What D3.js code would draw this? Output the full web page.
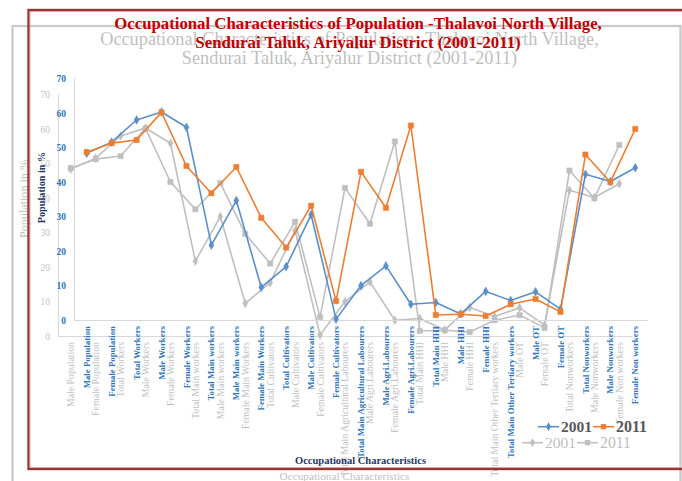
<!DOCTYPE html>
<html><head><meta charset="utf-8">
<script src="https://cdn.jsdelivr.net/npm/d3@7/dist/d3.min.js"></script>
<style>body{margin:0;background:#fff;overflow:hidden}</style>
</head><body>
<svg id="c" width="682" height="481"></svg>
<script>
const categories = ["Male Population","Female Population","Total Workers","Male Workers","Female Workers","Total Main workers","Male Main workers","Female Main Workers","Total Cultivators","Male Cultivators","Female Cultivators","Total Main Agricultural Labourers","Male Agri.Labourers","Female Agri.Labourers","Total Main HHI","Male HHI","Female HHI","Total Main Other Tertiary workers","Male OT","Female OT","Total Nonworkers","Male Nonworkers","Female Non workers"];
const values2001 = [48.4,51.6,58.0,60.3,55.9,21.8,34.7,9.6,15.6,30.6,0.4,10.1,15.8,4.7,5.2,1.9,8.4,5.8,8.3,3.3,42.3,40.2,44.2];
const values2011 = [48.7,51.3,52.2,60.2,44.7,36.8,44.4,29.7,21.1,33.2,5.6,43.0,32.6,56.4,1.6,1.8,1.3,4.7,6.2,2.5,48.0,40.0,55.4];
const seriesNames = ["2001","2011"];
const yTicks = [0,10,20,30,40,50,60,70];
const titleLines = ["Occupational Characteristics of Population -Thalavoi North Village,","Sendurai Taluk, Ariyalur District (2001-2011)"];
const xTitle = "Occupational Characteristics";
const yTitle = "Population in %";

const svg = d3.select("#c");
const FONT = "'Liberation Serif', 'Times New Roman', serif";

function fit(sel, target){
  const n = sel.node(); const len = n.getComputedTextLength();
  const fs = parseFloat(sel.attr("font-size"));
  sel.attr("font-size", fs*target/len);
  return fs*target/len;
}

function drawChart(cfg){
  const g = svg.append("g").attr("transform",`translate(${cfg.dx},${cfg.dy})`);
  const fw = cfg.bold ? "bold" : "normal";
  // frame
  g.append("rect").attr("x",28.5).attr("y",10).attr("width",668).attr("height",459)
    .attr("fill","none").attr("stroke",cfg.frame).attr("stroke-width",cfg.frameW);
  if(cfg.frameInner){
    g.append("rect").attr("x",30).attr("y",11.5).attr("width",665).attr("height",456)
      .attr("fill","none").attr("stroke",cfg.frameInner).attr("stroke-width",0.8);
  }
  const x = d3.scalePoint().domain(categories).range([86.7,635.3]);
  const y = d3.scaleLinear().domain([0,70]).range([320.5,78.5]);
  const left = 74.5, right = 648.2;
  // axes lines
  g.append("line").attr("x1",left).attr("x2",left).attr("y1",y(70)).attr("y2",y(0)).attr("stroke","#d9d9d9").attr("stroke-width",1);
  g.append("line").attr("x1",left).attr("x2",right).attr("y1",y(0)).attr("y2",y(0)).attr("stroke","#d9d9d9").attr("stroke-width",1.2);
  // y ticks
  const yAxis = d3.axisLeft(y).tickValues(yTicks).tickSize(0).tickPadding(0);
  const ya = g.append("g").attr("transform",`translate(${left-8.5},0)`).call(yAxis);
  ya.select(".domain").remove();
  ya.selectAll("text").attr("font-family",FONT).attr("font-size",9.5).attr("font-weight",fw).attr("fill",cfg.tick);
  // x labels
  const xa = g.append("g").attr("transform",`translate(0,${y(0)+5.5})`);
  const labels = xa.selectAll("text").data(categories).join("text")
    .attr("transform",d=>`translate(${x(d)},0) rotate(-90)`)
    .attr("text-anchor","end").attr("dy","0.35em")
    .attr("font-family",FONT).attr("font-size",10).attr("font-weight",fw).attr("fill",cfg.cat)
    .text(d=>d);
  const ref = labels.filter(d=>d==="Total Main Other Tertiary workers");
  const fs = fit(ref, cfg.catLen);
  labels.attr("font-size",fs);
  // lines
  const line = d3.line().x((d,i)=>x(categories[i])).y(d=>y(d));
  const sets = [values2001, values2011];
  sets.forEach((vals,si)=>{
    g.append("path").attr("d",line(vals)).attr("fill","none").attr("stroke",cfg.colors[si]).attr("stroke-width",1.6).attr("stroke-linejoin","round");
    const sym = d3.symbol().type(si===0?d3.symbolDiamond:d3.symbolSquare).size(si===0?22:28);
    g.append("g").selectAll("path").data(vals).join("path")
      .attr("transform",(d,i)=>`translate(${x(categories[i])},${y(d)})`)
      .attr("d",sym).attr("fill",cfg.colors[si]).attr("stroke",cfg.colors[si]).attr("stroke-width",0.5);
  });
  // titles
  titleLines.forEach((t,i)=>{
    const tt = g.append("text").attr("x",cfg.titleX).attr("y",cfg.titleY[i]).attr("text-anchor","middle")
      .attr("font-family",FONT).attr("font-size",16).attr("font-weight",fw).attr("fill",cfg.title).text(t);
    if(i===0){ cfg._tfs = fit(tt, cfg.titleLen); } else { tt.attr("font-size",cfg._tfs); }
  });
  // x title
  const xt = g.append("text").attr("x",360.5).attr("y",464).attr("text-anchor","middle")
    .attr("font-family",FONT).attr("font-size",11).attr("font-weight",fw).attr("fill",cfg.axisTitle).text(xTitle);
  fit(xt, cfg.xTitleLen);
  // y title
  const yt = g.append("text").attr("transform",`translate(${cfg.yTitlePos[0]},${cfg.yTitlePos[1]}) rotate(-90)`)
    .attr("text-anchor","middle").attr("dy","0.35em")
    .attr("font-family",FONT).attr("font-size",11).attr("font-weight",fw).attr("fill",cfg.axisTitle).text(yTitle);
  fit(yt, cfg.yTitleLen);
  // legend
  const lg = g.append("g");
  const lx = [538, 593];
  seriesNames.forEach((s,i)=>{
    const x0 = lx[i], yy = 426.7;
    lg.append("line").attr("x1",x0).attr("x2",x0+21).attr("y1",yy).attr("y2",yy).attr("stroke",cfg.colors[i]).attr("stroke-width",1.6);
    const sym = d3.symbol().type(i===0?d3.symbolDiamond:d3.symbolSquare).size(i===0?22:28);
    lg.append("path").attr("transform",`translate(${x0+10.5},${yy})`).attr("d",sym).attr("fill",cfg.colors[i]);
    const lt = lg.append("text").attr("x",x0+23).attr("y",yy).attr("dy","0.35em")
      .attr("font-family",FONT).attr("font-size",15).attr("font-weight",fw).attr("fill",cfg.legend).text(s);
    fit(lt, 31);
  });
}

// ghost copy (drawn behind)
drawChart({dx:-16, dy:16, bold:false, frame:"#c9c9c9", frameW:2.2, frameInner:null,
  tick:"#bfbfbf", cat:"#bfbfbf", title:"#bfbfbf", axisTitle:"#bfbfbf", legend:"#bfbfbf",
  colors:["#bfbfbf","#bfbfbf"], catLen:135, titleX:365.5, titleY:[29,47.5], titleLen:499,
  xTitleLen:130, yTitlePos:[40,183], yTitleLen:78});
// main chart
drawChart({dx:0, dy:0, bold:true, frame:"#953735", frameW:2.4, frameInner:"#d79a9a",
  tick:"#2e75b6", cat:"#2e75b6", title:"#c00000", axisTitle:"#1f3864", legend:"#595959",
  colors:["#5b8fc9","#ed7d31"], catLen:132, titleX:358, titleY:[29,47.5], titleLen:488,
  xTitleLen:131, yTitlePos:[41,187.5], yTitleLen:71.6});
</script>
</body></html>
